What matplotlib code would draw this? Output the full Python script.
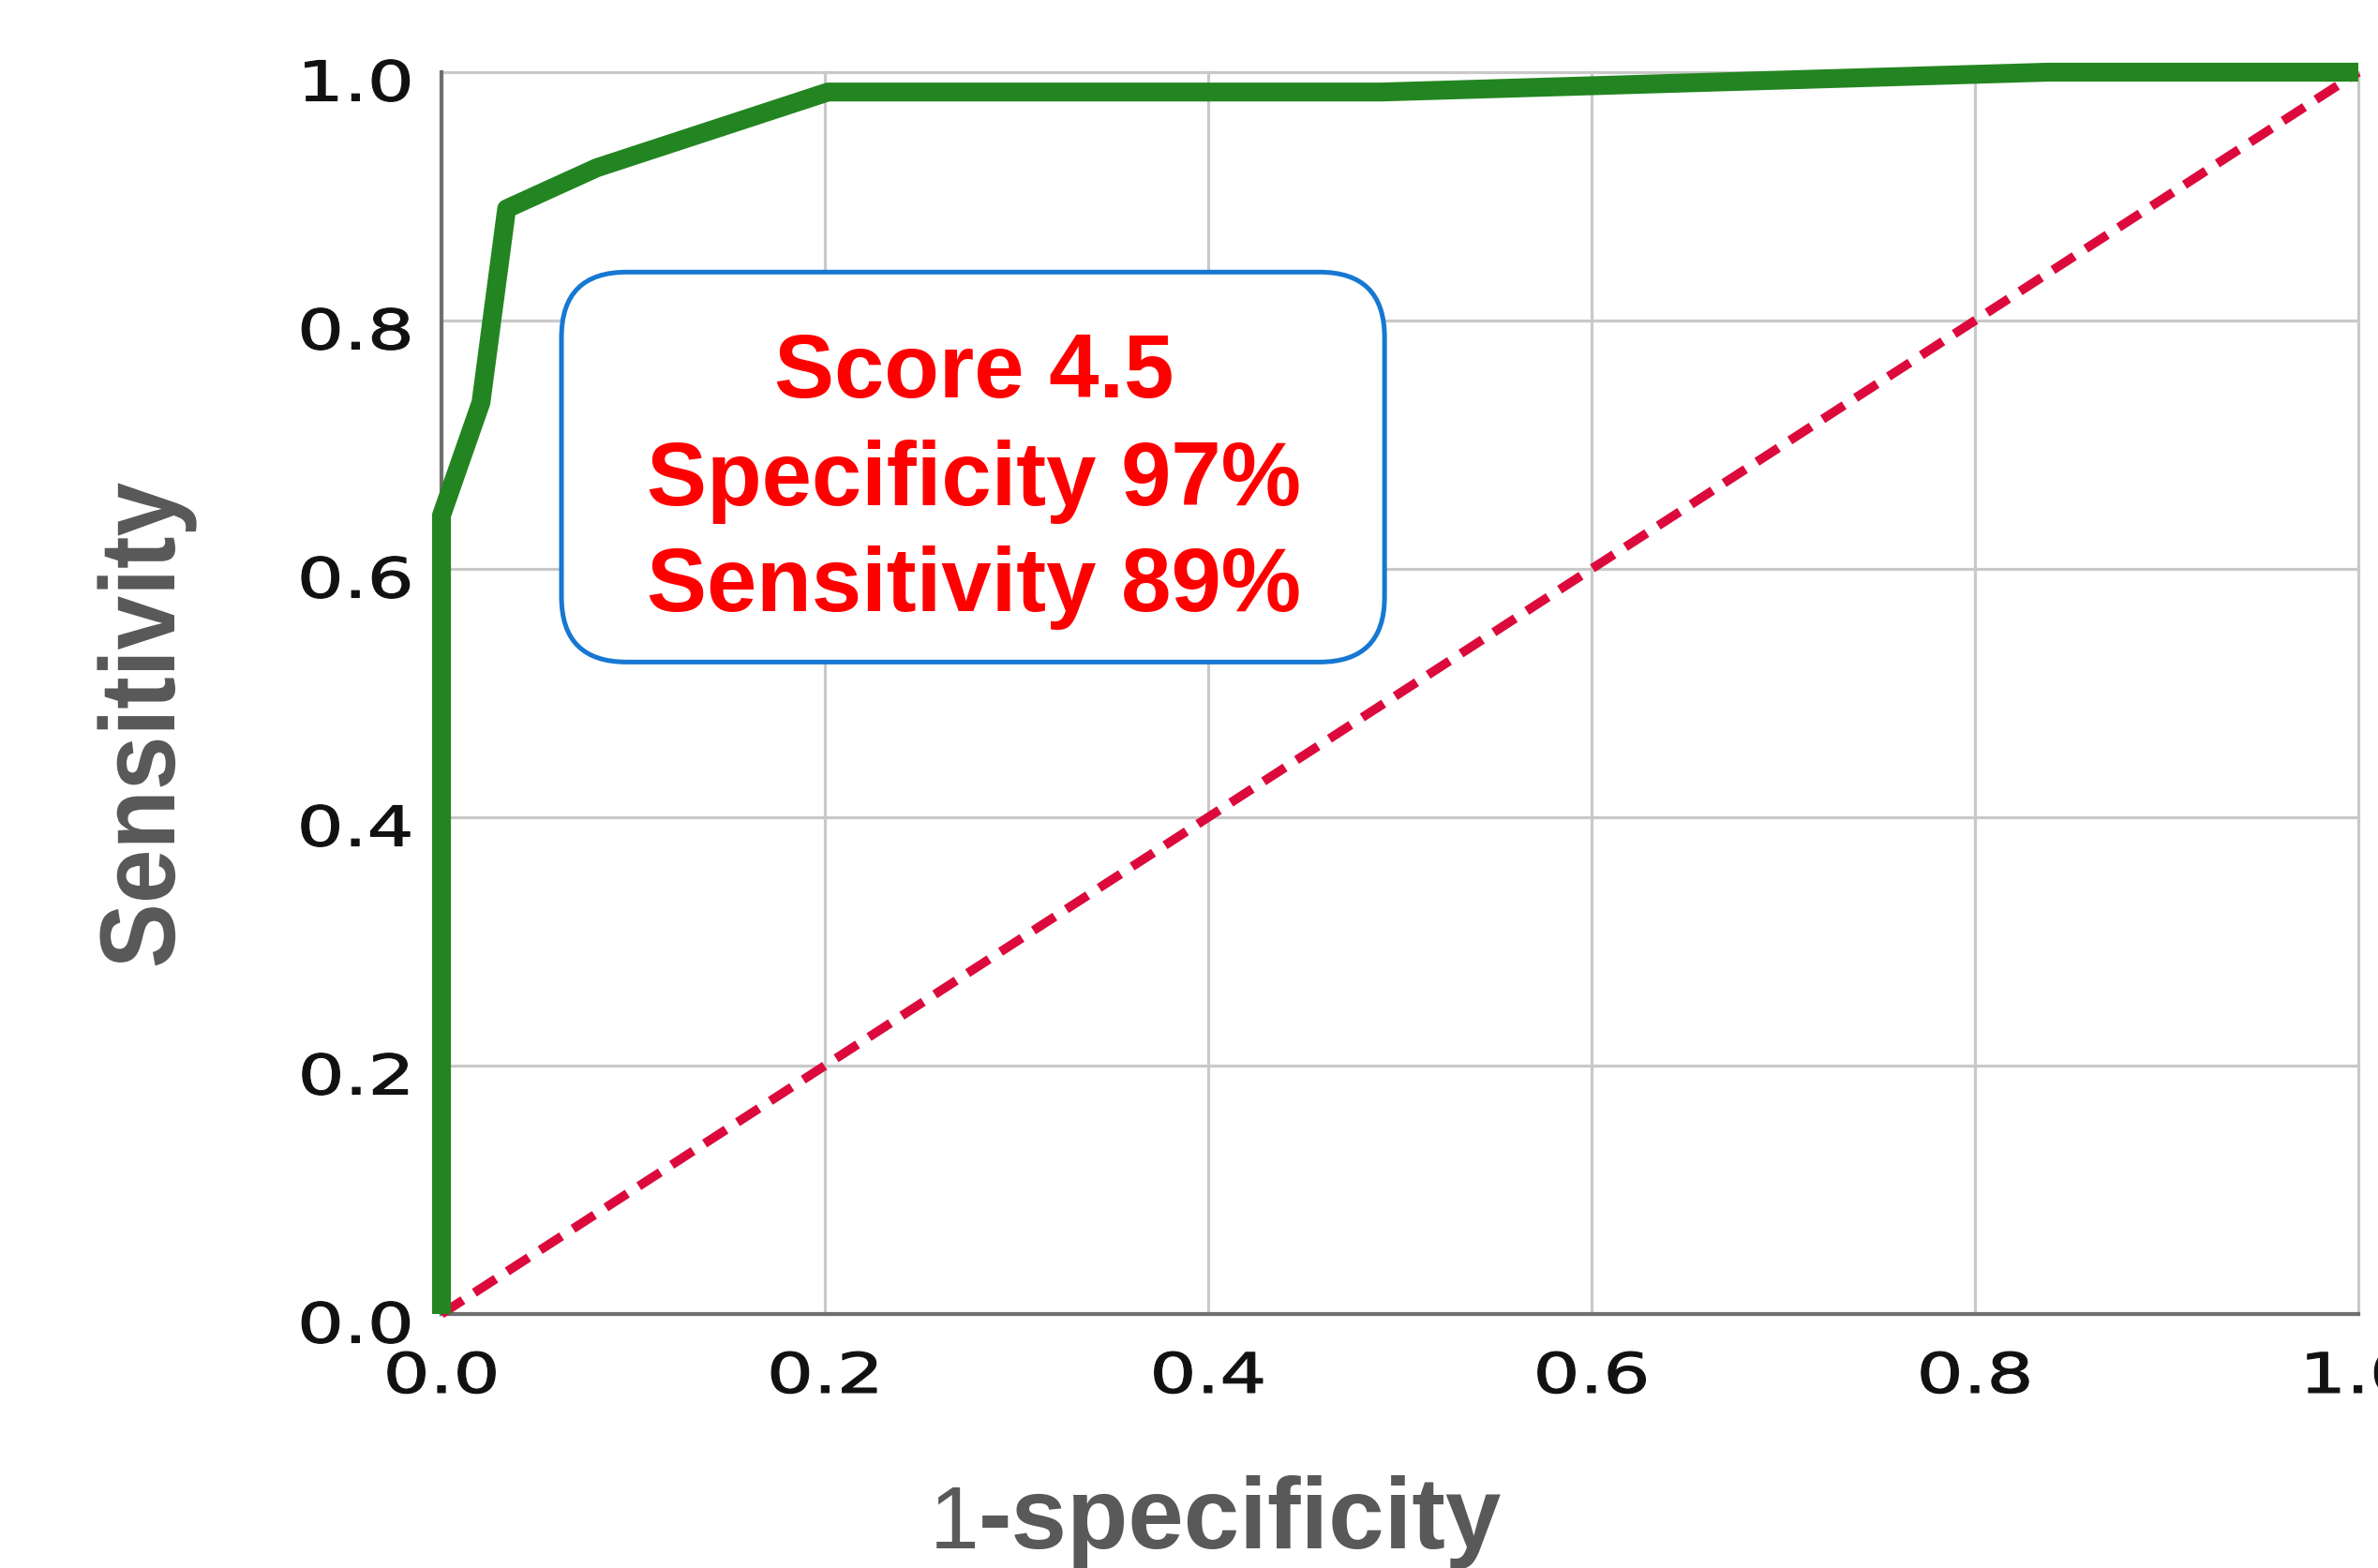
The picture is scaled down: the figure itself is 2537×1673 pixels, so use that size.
import matplotlib
matplotlib.use("Agg")
import matplotlib.pyplot as plt
from matplotlib.patches import FancyBboxPatch
from matplotlib.patheffects import AbstractPathEffect
from matplotlib.transforms import Affine2D

# ---------------- data ----------------
fpr = [0.0, 0.0, 0.0206, 0.034, 0.081, 0.2016, 0.49, 0.838, 1.0]
tpr = [0.0, 0.643, 0.734, 0.890, 0.923, 0.984, 0.984, 1.0, 1.0]
ref_x = [0.0, 1.0]
ref_y = [0.0, 1.0]
ticks = [0.0, 0.2, 0.4, 0.6, 0.8, 1.0]
tick_labels = ["0.0", "0.2", "0.4", "0.6", "0.8", "1.0"]
box_lines = ["Score 4.5", "Specificity 97%", "Sensitivity 89%"]
xlabel_num = "1"
xlabel_rest = "-specificity"
ylabel = "Sensitivity"


class Stretch(AbstractPathEffect):
    """Scale glyph outlines around an anchor (text stays a Text object)."""
    def __init__(self, sx=1.0, sy=1.0, anchor="center", dy=0.0, stroke=0.0):
        super().__init__()
        self.sx, self.sy, self.anchor = sx, sy, anchor
        self.dy, self.stroke = dy, stroke

    def draw_path(self, renderer, gc, tpath, affine, rgbFace=None):
        ext = tpath.get_extents(affine)
        if self.anchor == "right":
            x0 = ext.x1
        elif self.anchor == "left":
            x0 = ext.x0
        else:
            x0 = 0.5 * (ext.x0 + ext.x1)
        y0 = 0.5 * (ext.y0 + ext.y1)
        t = affine + Affine2D().translate(-x0, -y0).scale(self.sx, self.sy) \
            .translate(x0, y0 + self.dy)
        gc0 = renderer.new_gc()
        gc0.copy_properties(gc)
        if self.stroke > 0 and rgbFace is not None:
            gc0.set_linewidth(self.stroke)
            gc0.set_foreground(rgbFace)
        renderer.draw_path(gc0, tpath, t, rgbFace)
        gc0.restore()


W, H = 2537, 1674
fig = plt.figure(figsize=(W / 100, H / 100), dpi=100)
fig.patch.set_facecolor("white")

L, R, T, B = 471, 2516, 78, 1403
ax = fig.add_axes([L / W, 1 - B / H, (R - L) / W, (B - T) / H])
ax.set_xlim(0, 1)
ax.set_ylim(0, 1)

# grid
for v in ticks:
    ax.axvline(v, color="#c9c9c9", lw=2.3, zorder=0.5, clip_on=False)
    ax.axhline(v, color="#c9c9c9", lw=2.3, zorder=0.5, clip_on=False)

for s in ["top", "right"]:
    ax.spines[s].set_visible(False)
for s in ["left", "bottom"]:
    ax.spines[s].set_color("#6f6f6f")
    ax.spines[s].set_linewidth(3.0)
    ax.spines[s].set_zorder(1)

# reference diagonal
ax.plot(ref_x, ref_y, color="#dc0a3c", lw=7, dashes=(2.8, 1.5),
        zorder=3, clip_on=False)
# ROC curve
ax.plot(fpr, tpr, color="#238521", lw=14.5, solid_joinstyle="round",
        solid_capstyle="butt", zorder=4, clip_on=False)

ax.set_xticks(ticks)
ax.set_xticklabels(tick_labels)
ax.set_yticks(ticks)
ax.set_yticklabels(tick_labels)
ax.tick_params(length=0, labelsize=42.5, labelcolor="#111111")
ax.tick_params(axis="x", pad=28)
ax.tick_params(axis="y", pad=22)
for lbl in ax.get_xticklabels():
    lbl.set_fontfamily("DejaVu Sans")
    lbl.set_path_effects([Stretch(sx=1.33, anchor="center", stroke=0.8)])
for lbl in ax.get_yticklabels():
    lbl.set_fontfamily("DejaVu Sans")
    lbl.set_va("center_baseline")
    lbl.set_path_effects([Stretch(sx=1.33, anchor="right", dy=-8, stroke=0.8)])

# annotation box
bx0, by0, bx1, by1 = 0.0626, 0.525, 0.492, 0.839
box = FancyBboxPatch((bx0, by0), bx1 - bx0, by1 - by0,
                     boxstyle="round,pad=0,rounding_size=0.034",
                     mutation_aspect=(R - L) / (B - T),
                     facecolor="white", edgecolor="#1678d2", lw=3.6, zorder=5)
ax.add_patch(box)
cx = 0.2777
for txt, yb in zip(box_lines, [0.739, 0.652, 0.567]):
    ax.text(cx, yb, txt, ha="center", va="baseline", color="#ff0000",
            fontsize=69, fontweight="bold", family="Liberation Sans", zorder=6)

# axis labels
fig.text(157 / W, 1 - 775 / H, ylabel, rotation=90, ha="center", va="center",
         fontsize=82, fontweight="bold", color="#595959", family="Liberation Sans",
         path_effects=[Stretch(sy=0.91, anchor="center")])
fig.text(1044 / W, 1 - 1652 / H, xlabel_num, ha="right", va="baseline",
         fontsize=68, fontweight="normal", color="#595959", family="Liberation Sans")
fig.text(1044 / W, 1 - 1652 / H, xlabel_rest, ha="left", va="baseline",
         fontsize=77, fontweight="bold", color="#595959", family="Liberation Sans")

fig.savefig("out.png", dpi=100, facecolor="white")
